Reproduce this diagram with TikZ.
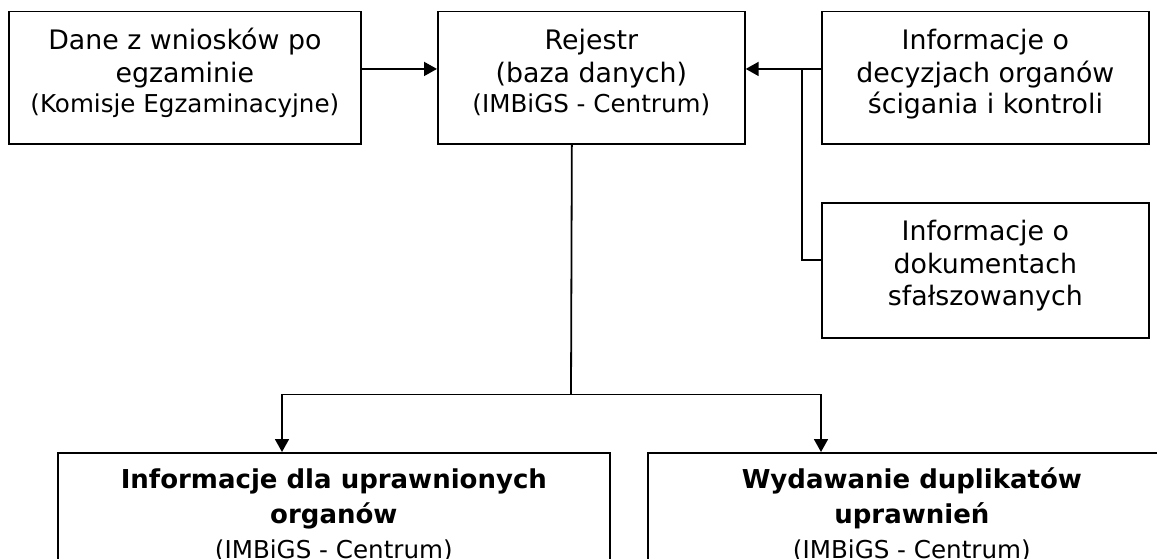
\documentclass[tikz,border=0pt]{standalone}
\usepackage{fontspec}
\setmainfont{DejaVu Sans}
\usetikzlibrary{arrows.meta}

\newcommand{\duzy}{\fontsize{26.8}{33}\selectfont}
\newcommand{\maly}{\fontsize{24.6}{30}\selectfont}
\newcommand{\gruby}{\fontsize{26}{33}\selectfont\bfseries}

\tikzset{
  blok/.style={draw, line width=1.7pt, anchor=north west, inner sep=0pt,
    align=center, font=\duzy},
  linia/.style={line width=1.8pt},
  strzalka/.style={linia, -{Triangle[length=13pt,width=14pt]}}
}

\begin{document}
\begin{tikzpicture}[x=1pt, y=-1pt]
        \useasboundingbox (0,0) rectangle (1157,559);
        \clip (0,0) rectangle (1157,559);

        % Bloki gorne
        \node[blok, minimum width=352pt, text height=101.3pt, text depth=31.5pt] (dane) at (8,10.7)
            {Dane z wniosków po\\ egzaminie\\[-3pt] {\maly (Komisje Egzaminacyjne)}};
        \node[blok, minimum width=307pt, text height=101.3pt, text depth=31.5pt] (rejestr) at (437,10.7)
            {Rejestr\\ (baza danych)\\[-3pt] {\maly (IMBiGS - Centrum)}};
        \node[blok, minimum width=327pt, text height=101.8pt, text depth=31pt] (decyzje) at (821,10.7)
            {Informacje o\\ decyzjach organów\\[-2pt] ścigania i kontroli};
        \node[blok, minimum width=327pt, text height=103pt, text depth=32pt] (falsyfikaty) at (821,202)
            {Informacje o\\ dokumentach\\[-1pt] sfałszowanych};

        % Bloki dolne
        \node[blok, minimum width=552pt, text height=105.5pt, text depth=100pt] (organy) at (57,452)
            {\gruby Informacje dla uprawnionych\\[2pt] \gruby organów\\[2pt] {\maly (IMBiGS - Centrum)}};
        \node[blok, minimum width=528pt, text height=105.5pt, text depth=100pt] (duplikaty) at (647,452)
            {\gruby Wydawanie duplikatów\\[2pt] \gruby uprawnień\\[2pt] {\maly (IMBiGS - Centrum)}};

        % Punkty pomocnicze
        \coordinate (rozgalezienie) at (802,68);
        \coordinate (wezel) at (571,394.5);
        \coordinate (lewa) at (282,394.5);
        \coordinate (prawa) at (821,394.5);

        % Wejscia do rejestru
        \draw[strzalka] ([yshift=9pt]dane.east) -- ([yshift=9pt]rejestr.west);
        \draw[strzalka] ([yshift=9pt]decyzje.west) -- ([yshift=9pt]rejestr.east);
        \draw[linia] ([yshift=10.5pt]falsyfikaty.west) -| (rozgalezienie);

        % Wyjscia z rejestru
        \draw[linia] ([xshift=-19.5pt]rejestr.south) -- (wezel);
        \draw[strzalka] (wezel) -- (lewa) -- (lewa |- organy.north);
        \draw[strzalka] (wezel) -- (prawa) -- (prawa |- duplikaty.north);
    \end{tikzpicture}
\end{document}
